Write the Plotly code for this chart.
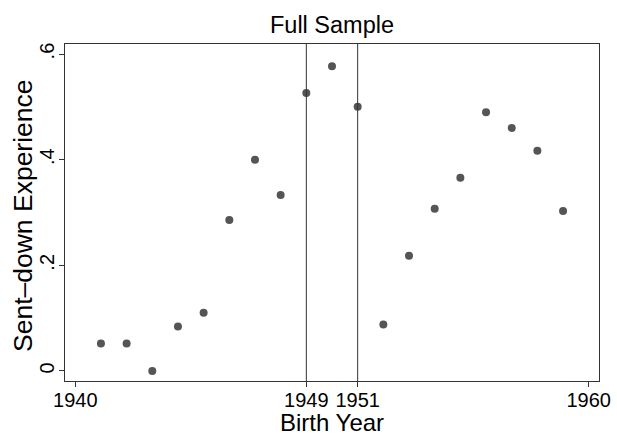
import plotly.graph_objects as go

years = list(range(1941, 1960))
values = [0.052, 0.052, 0.0, 0.084, 0.110, 0.286, 0.400, 0.333, 0.526, 0.577, 0.500,
          0.088, 0.218, 0.307, 0.366, 0.490, 0.460, 0.417, 0.303]
x_ticks = [1940, 1949, 1951, 1960]
y_ticks = [0, 0.2, 0.4, 0.6]
y_labels = ["0", ".2", ".4", ".6"]
cutoffs = [1949, 1951]

font = "Liberation Sans, Arial, Helvetica, sans-serif"
W, H = 617, 437

fig = go.Figure()
fig.add_trace(go.Scatter(x=years, y=values, mode="markers",
                         marker=dict(color="#555555", size=8), showlegend=False))
for c in cutoffs:
    fig.add_vline(x=c, line=dict(color="#333333", width=1))

fig.update_layout(
    width=W, height=H,
    margin=dict(l=65, r=18, t=44, b=56),
    paper_bgcolor="white", plot_bgcolor="white",
    font=dict(family=font, color="black"),
    title=dict(text="Full Sample", x=332 / W, xanchor="center",
               y=1 - 25 / H, yanchor="middle", font=dict(size=23.5)),
)
fig.add_annotation(text="Birth Year", xref="paper", yref="paper",
                   x=0.5, y=-(422 - 381) / (H - 100), xanchor="center", yanchor="middle",
                   showarrow=False, font=dict(size=24))
fig.add_annotation(text="Sent\u2013down Experience", xref="paper", yref="paper",
                   x=-(65 - 23) / (W - 83), y=(381 - 216) / (H - 100), xanchor="center", yanchor="middle",
                   textangle=-90, showarrow=False, font=dict(size=26.5))
fig.update_xaxes(range=[1939.6, 1960.4], tickvals=x_ticks, ticktext=[str(t) for t in x_ticks],
                 ticks="outside", ticklen=5, tickcolor="#333333", showgrid=False, zeroline=False,
                 showline=True, linecolor="#333333", linewidth=1, mirror=True, automargin=False,
                 tickfont=dict(size=20), ticklabelstandoff=-4)
fig.update_yaxes(range=[-0.019, 0.619], tickvals=y_ticks, ticktext=y_labels, tickangle=-90,
                 ticks="outside", ticklen=5, tickcolor="#333333", showgrid=False, zeroline=False,
                 showline=True, linecolor="#333333", linewidth=1, mirror=True, automargin=False,
                 tickfont=dict(size=20), ticklabelstandoff=-3)

fig.write_html("out.html")
